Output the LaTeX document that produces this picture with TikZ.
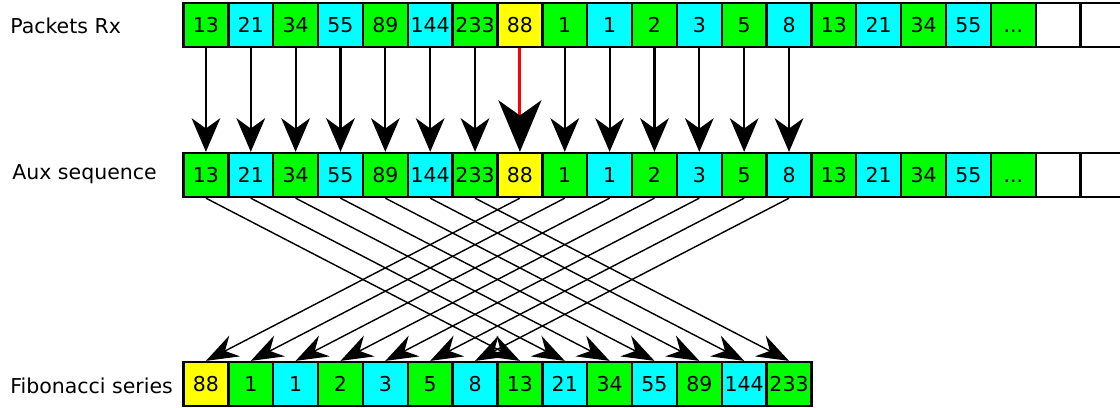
\documentclass[tikz,border=0pt]{standalone}
\usepackage{fontspec}
\setmainfont{DejaVu Sans}
\usepackage{tikz}
\usetikzlibrary{arrows.meta, positioning}

\definecolor{cellgreen}{RGB}{0,255,0}
\definecolor{cellcyan}{RGB}{0,255,255}
\definecolor{cellyellow}{RGB}{255,255,0}
\newcommand{\celldots}{\vphantom{0}...}

\begin{document}
\begin{tikzpicture}
    \tikzset{
        cell/.style={
                draw=black, line width=1.5pt, minimum width=1cm, minimum height=0.98cm,
                inner sep=0pt, font=\fontsize{13}{15}\selectfont
            },
        row label/.style={anchor=base west, inner sep=0pt, font=\fontsize{13}{15}\selectfont},
        rx arrow/.style={line width=1.4pt, -{Stealth[length=0.75cm, width=0.64cm, inset=0.23cm]}},
        lost arrow/.style={red, line width=2pt, -{Stealth[black, length=1.15cm, width=0.96cm, inset=0.34cm]}},
        seq arrow/.style={line width=0.9pt, -{Stealth[length=0.72cm, width=0.52cm, inset=0.24cm]}}
    }
    \useasboundingbox (0,0) rectangle (24.97,-9.075);

    % --- received packets and the aux copy ---
    \foreach \v/\c [count=\i] in {13/cellgreen, 21/cellcyan, 34/cellgreen, 55/cellcyan, 89/cellgreen,
            144/cellcyan, 233/cellgreen, 88/cellyellow, 1/cellgreen, 1/cellcyan, 2/cellgreen, 3/cellcyan,
            5/cellgreen, 8/cellcyan, 13/cellgreen, 21/cellcyan, 34/cellgreen, 55/cellcyan, \celldots/cellgreen,
            {}/white, {}/white} {
        \node[cell, fill=\c] (rx\i) at (4.591+\i-1, -0.557) {\v};
        \node[cell, fill=\c] (aux\i) at (4.591+\i-1, -3.902) {\v};
    }

    % --- reordered series ---
    \foreach \v/\c [count=\i] in {88/cellyellow, 1/cellgreen, 1/cellcyan, 2/cellgreen, 3/cellcyan,
            5/cellgreen, 8/cellcyan, 13/cellgreen, 21/cellcyan, 34/cellgreen, 55/cellcyan, 89/cellgreen,
            144/cellcyan, 233/cellgreen} {
        \node[cell, fill=\c] (fib\i) at (4.591+\i-1, -8.562) {\v};
    }

    \node[row label] (rxlabel) at (0.223, -0.736) {Packets Rx};
    \node[row label] (auxlabel) at (0.268, -4.013) {Aux sequence};
    \node[row label] (fiblabel) at (0.223, -8.762) {Fibonacci series};

    \foreach \i in {1,...,7,9,10,...,14} {
        \draw[rx arrow] (rx\i.south) -- (aux\i.north);
    }
    \draw[lost arrow] (rx8.south) -- (aux8.north);

    \foreach \a/\f in {1/8, 2/9, 3/10, 4/11, 5/12, 6/13, 7/14, 8/1, 9/2, 10/3, 11/4, 12/5, 13/6, 14/7} {
        \draw[seq arrow] (aux\a.south) -- (fib\f.north);
    }
\end{tikzpicture}
\end{document}
